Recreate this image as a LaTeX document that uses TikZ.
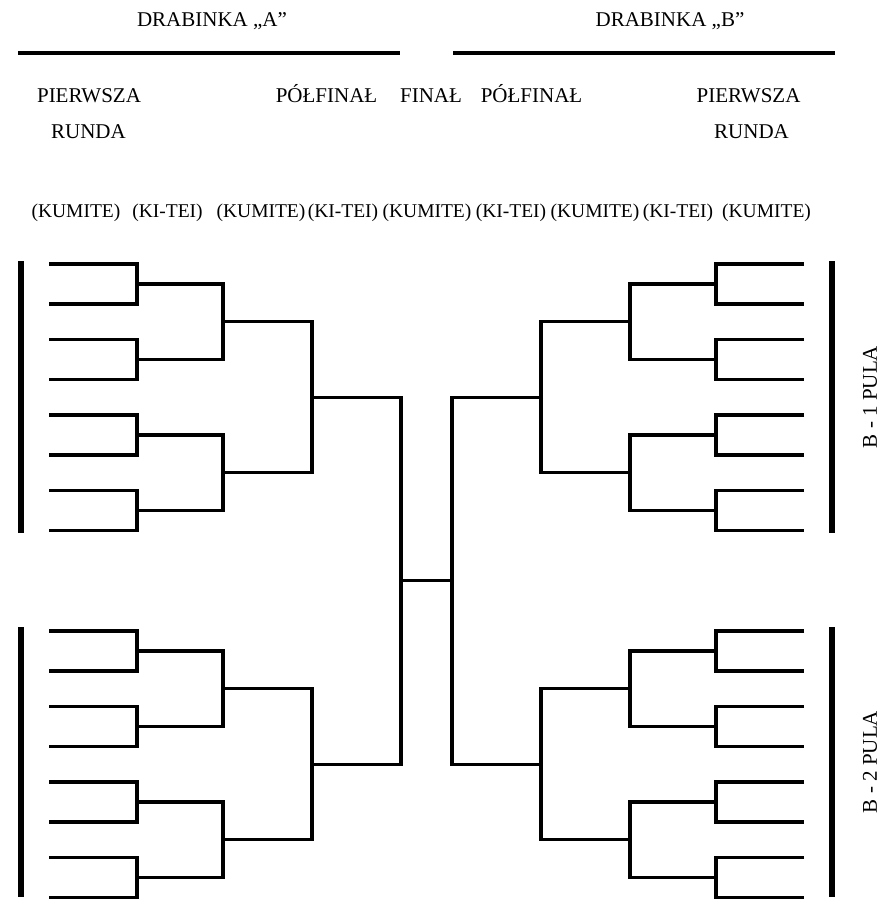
\documentclass[tikz,border=0pt]{standalone}
\usepackage{fontspec}
\setmainfont{Liberation Serif}
\begin{document}
\begin{tikzpicture}[x=1pt,y=-1pt,
  br/.style={line width=3.2pt, line join=miter},
  rule/.style={line width=3.8pt},
  bar/.style={line width=6.5pt},
  hd/.style={inner sep=0pt, anchor=base, font=\fontsize{21}{25}\selectfont},
  kt/.style={inner sep=0pt, anchor=base, font=\fontsize{19.5}{23}\selectfont},
  pula/.style={inner sep=0pt, rotate=90, font=\fontsize{21}{25}\selectfont}]
\useasboundingbox (0,0) rectangle (883,899);

% headings
\node[hd] (dA) at (212,27) {DRABINKA „A”};
\node[hd] (dB) at (670,27) {DRABINKA „B”};
\coordinate (rA1) at (18,53); \coordinate (rA2) at (400,53);
\coordinate (rB1) at (453,53); \coordinate (rB2) at (835,53);
\draw[rule] (rA1) -- (rA2);
\draw[rule] (rB1) -- (rB2);

\node[hd] (pA) at (89,102) {PIERWSZA};
\node[hd] (rnA) at (88.5,138) {RUNDA};
\node[hd] (sA) at (326.5,102) {PÓŁFINAŁ};
\node[hd] (fin) at (431,102) {FINAŁ};
\node[hd] (sB) at (531.5,102) {PÓŁFINAŁ};
\node[hd] (pB) at (748.5,102) {PIERWSZA};
\node[hd] (rnB) at (751.5,138) {RUNDA};

\foreach \n/\x/\t in {1/76/(KUMITE), 2/167.5/(KI-TEI), 3/261/(KUMITE), 4/343/(KI-TEI), 5/427/(KUMITE), 6/511/(KI-TEI), 7/595/(KUMITE), 8/678/(KI-TEI), 9/766.5/(KUMITE)}
  \node[kt] (k\n) at (\x,217) {\t};

% brackets
\foreach \s/\b in {U/264, D/631}{
  % level 1
  \foreach \k in {0,1,2,3}{
    \pgfmathsetmacro\ya{\b+75.5*\k}
    \foreach \sd/\xi/\xv/\xo in {A/49/137/223, B/804/716/630}{
      \coordinate (\sd\s\k t) at (\xi,\ya);
      \coordinate (\sd\s\k b) at (\xi,\ya+40);
      \coordinate (\sd\s\k m) at (\xv,\ya+20);
      \coordinate (\sd\s\k o) at (\xo,\ya+20);
      \draw[br] (\sd\s\k t) -| (\sd\s\k m) |- (\sd\s\k b);
      \draw[br] (\sd\s\k m) -- (\sd\s\k o);
    }
  }
  % level 2
  \foreach \j in {0,1}{
    \pgfmathsetmacro\ya{\b+20+151*\j}
    \foreach \sd/\xi/\xv/\xo in {A/137/223/312, B/716/630/541}{
      \coordinate (\sd\s Q\j t) at (\xi,\ya);
      \coordinate (\sd\s Q\j b) at (\xi,\ya+75.5);
      \coordinate (\sd\s Q\j m) at (\xv,\ya+37.75);
      \coordinate (\sd\s Q\j o) at (\xo,\ya+37.75);
      \draw[br] (\sd\s Q\j t) -| (\sd\s Q\j m) |- (\sd\s Q\j b);
      \draw[br] (\sd\s Q\j m) -- (\sd\s Q\j o);
    }
  }
  % level 3
  \foreach \sd/\xi/\xv/\xo in {A/223/312/401, B/630/541/452}{
    \coordinate (\sd\s S t) at (\xi,\b+57.75);
    \coordinate (\sd\s S b) at (\xi,\b+208.75);
    \coordinate (\sd\s S m) at (\xv,\b+133.25);
    \coordinate (\sd\s S o) at (\xo,\b+133.25);
    \draw[br] (\sd\s S t) -| (\sd\s S m) |- (\sd\s S b);
    \draw[br] (\sd\s S m) -- (\sd\s S o);
  }
}
% final
\foreach \sd/\xi/\xv in {A/312/401, B/541/452}{
  \coordinate (\sd Ft) at (\xi,397.25);
  \coordinate (\sd Fb) at (\xi,764.25);
  \coordinate (\sd Fm) at (\xv,580.75);
  \draw[br] (\sd Ft) -| (\sd Fm) |- (\sd Fb);
}
\draw[br] (AFm) -- (BFm);

% pool bars
\foreach \sd/\x in {A/21, B/832}{
  \coordinate (\sd bar1t) at (\x,261); \coordinate (\sd bar1b) at (\x,533);
  \coordinate (\sd bar2t) at (\x,627); \coordinate (\sd bar2b) at (\x,897);
  \draw[bar] (\sd bar1t) -- (\sd bar1b);
  \draw[bar] (\sd bar2t) -- (\sd bar2b);
}
\node[pula] (pula1) at (870,397) {B - 1 PULA};
\node[pula] (pula2) at (870,762) {B - 2 PULA};
\end{tikzpicture}
\end{document}
